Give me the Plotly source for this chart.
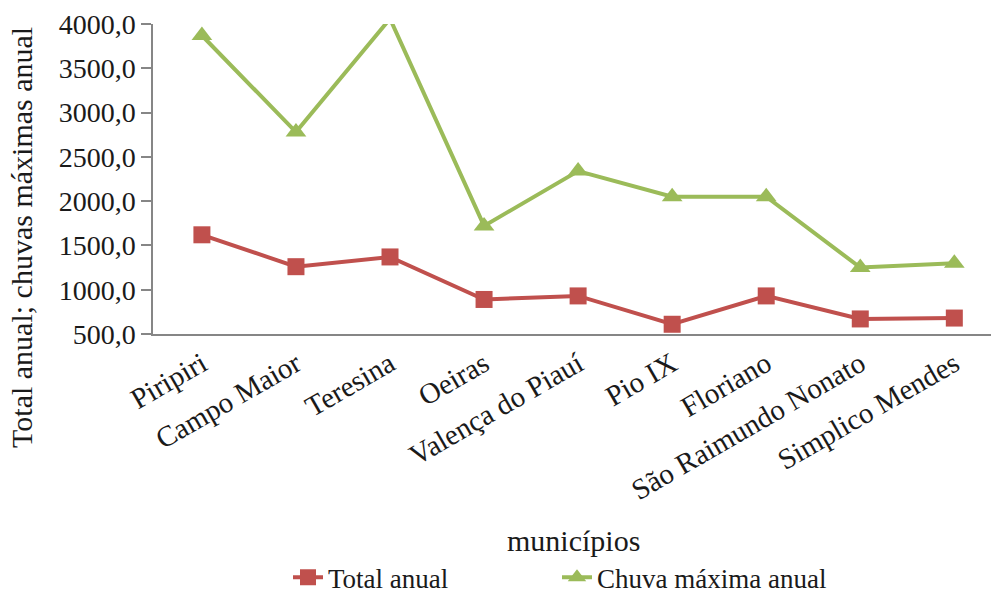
import plotly.graph_objects as go

municipios = ["Piripiri", "Campo Maior", "Teresina", "Oeiras", "Valença do Piauí",
              "Pio IX", "Floriano", "São Raimundo Nonato", "Simplico Mendes"]
total_anual = [1620, 1260, 1370, 890, 930, 610, 930, 670, 680]
chuva_maxima = [3870, 2780, 4060, 1720, 2340, 2050, 2050, 1250, 1300]
y_ticks = [500, 1000, 1500, 2000, 2500, 3000, 3500, 4000]

FONT = "Liberation Serif"
RED = "#C0504D"
GREEN = "#9BBB59"

fig = go.Figure()
fig.add_trace(go.Scatter(
    x=municipios, y=total_anual, name="Total anual", mode="lines+markers",
    line=dict(color=RED, width=4), legend="legend",
    marker=dict(symbol="square", size=17, color=RED)))
fig.add_trace(go.Scatter(
    x=municipios, y=chuva_maxima, name="Chuva máxima anual", mode="lines+markers",
    line=dict(color=GREEN, width=4), legend="legend2",
    marker=dict(symbol="triangle-up", size=18, color=GREEN)))

W, H = 991, 603
L, R, T, B = 153, 0, 24, 266
pw, ph = W - L - R, H - T - B

def px(x):
    return (x - L) / pw

def py(y):
    return (H - B - y) / ph

legend_style = dict(orientation="h", xanchor="left", yanchor="middle",
                    font=dict(family=FONT, size=27, color="#1a1a1a"),
                    bgcolor="rgba(0,0,0,0)")

fig.update_layout(
    width=W, height=H,
    margin=dict(l=L, r=R, t=T, b=B),
    paper_bgcolor="white", plot_bgcolor="white",
    separators=",.",
    font=dict(family=FONT, color="#1a1a1a", size=26),
    showlegend=True,
    legend=dict(x=px(288), y=py(583), **legend_style),
    legend2=dict(x=px(557), y=py(583), **legend_style),
    xaxis=dict(type="category", range=[-0.52, 8.39], showline=True, linecolor="#868686",
               linewidth=1.5, ticks="", showgrid=False, tickangle=-30,
               tickfont=dict(family=FONT, size=29), zeroline=False),
    yaxis=dict(range=[500, 4000], tickvals=y_ticks, tickformat=".1f", showline=True,
               linecolor="#868686", linewidth=1.5, ticks="outside", ticklen=10,
               tickcolor="#868686", tickwidth=1.5, showgrid=False, zeroline=False,
               tickfont=dict(family=FONT, size=28)),
    annotations=[
        dict(text="Total anual; chuvas máximas anual", textangle=-90, xref="paper",
             yref="paper", x=px(22), y=py(240), xanchor="center", yanchor="middle",
             showarrow=False, font=dict(family=FONT, size=30)),
        dict(text="municípios", xref="paper", yref="paper", x=px(573), y=py(545),
             xanchor="center", yanchor="middle", showarrow=False,
             font=dict(family=FONT, size=30)),
    ],
)

fig.write_html("out.html")
